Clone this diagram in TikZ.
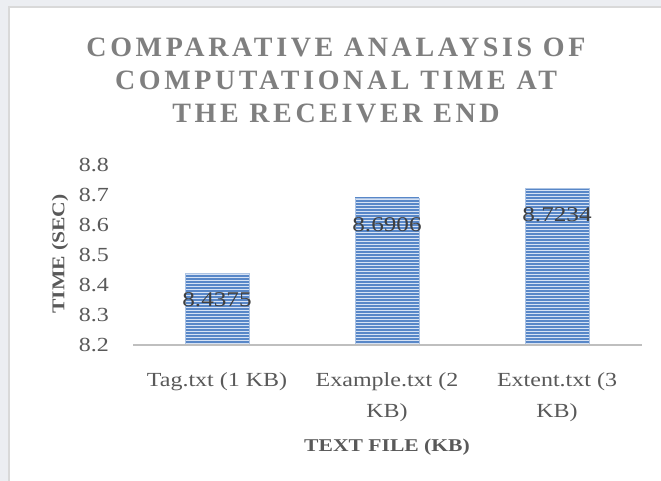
\documentclass[tikz,border=0pt]{standalone}
\usepackage{fontspec}
\setmainfont[FakeStretch=1.2]{Liberation Serif}
\newfontfamily\titlefont[LetterSpace=13]{Liberation Serif}
\definecolor{title_gray}{RGB}{127,127,127}
\definecolor{text_gray}{RGB}{89,89,89}
\definecolor{label_dark}{RGB}{64,64,64}
\definecolor{axis_gray}{RGB}{191,191,191}
\definecolor{frame_gray}{RGB}{217,217,217}
\definecolor{bar_blue}{RGB}{88,135,200}
\definecolor{bar_light}{RGB}{214,226,244}
\definecolor{back_gray}{RGB}{236,238,242}

\begin{document}
\begin{tikzpicture}[x=1pt,y=-1pt]
    \tikzstyle{tick}=[anchor=east, text=text_gray, font=\fontsize{20}{20}\selectfont, inner sep=0pt]
    \tikzstyle{cat}=[anchor=north, align=center, text=text_gray, font=\fontsize{20}{31}\selectfont, inner sep=0pt]
    \tikzstyle{val}=[text=label_dark, font=\fontsize{21}{21}\selectfont, inner sep=0pt]
    \tikzstyle{axtitle}=[text=text_gray, font=\bfseries\fontsize{18}{18}\selectfont, inner sep=0pt]
    \tikzstyle{stripe}=[bar_blue, line width=1.1pt]

    \useasboundingbox (0,0) rectangle (661,481);
    % page behind the chart
    \fill[back_gray] (0,0) rectangle (661,481);
    \fill[white, draw=frame_gray, line width=1.5pt] (9,7) rectangle (672,492);

    \node[align=center, text=title_gray, font=\titlefont\bfseries\fontsize{28}{33}\selectfont] (title) at (336,80)
      {COMPARATIVE ANALAYSIS OF\\COMPUTATIONAL TIME AT\\THE RECEIVER END};

    % value axis
    \foreach \v/\y [count=\i] in {8.2/345,8.3/315,8.4/285,8.5/255,8.6/225,8.7/195,8.8/165}
      \node[tick] (tick\i) at (109,\y) {\v};
    \node[axtitle, rotate=90] (ytitle) at (60,254) {TIME (SEC)};

    % bars
    \foreach \c/\top in {217/273.75,387/197.82,557/187.98} {
      \fill[bar_light] (\c-32,\top) rectangle (\c+32,345);
      \begin{scope}
        \clip (\c-32,\top) rectangle (\c+32,345);
        \foreach \s in {0,3,...,180}
          \draw[stripe] (\c-32,{345-\s}) -- (\c+32,{345-\s});
      \end{scope}
      \draw[bar_blue!50, line width=0.6pt] (\c-32,\top) rectangle (\c+32,345);
    }
    \node[val] (v1) at (217,300) {8.4375};
    \node[val] (v2) at (387,225) {8.6906};
    \node[val] (v3) at (557,215) {8.7234};

    % category axis
    \coordinate (axl) at (133,345);
    \coordinate (axr) at (642,345);
    \draw[axis_gray, line width=2.5pt] (axl) -- (axr);

    \node[cat] (c1) at (217,372) {Tag.txt (1 KB)};
    \node[cat] (c2) at (387,372) {Example.txt (2\\KB)};
    \node[cat] (c3) at (557,372) {Extent.txt (3\\KB)};
    \node[axtitle] (xtitle) at (387,447) {TEXT FILE (KB)};
\end{tikzpicture}
\end{document}
